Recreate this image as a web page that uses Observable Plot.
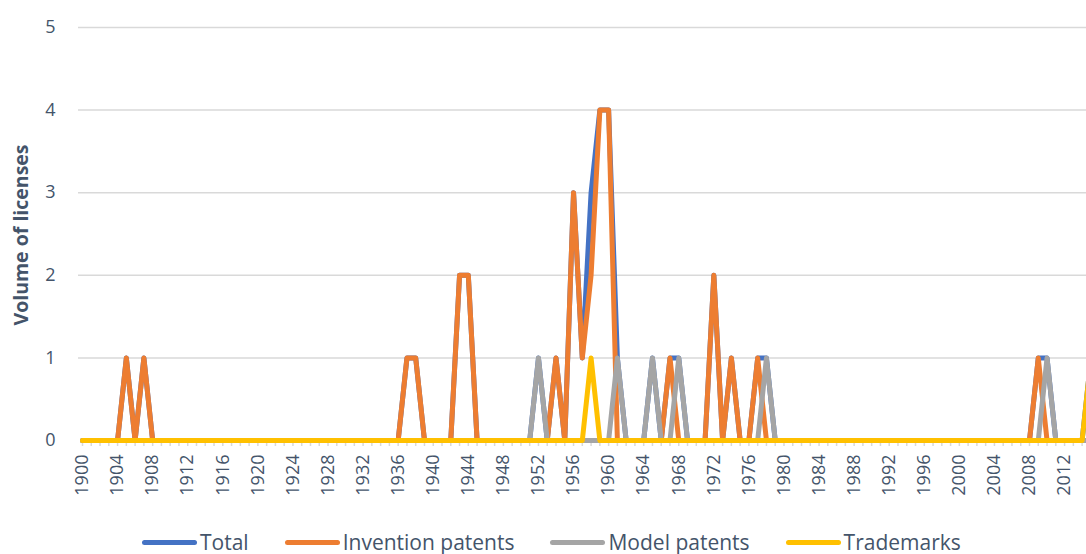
<!DOCTYPE html>
<html>
<head>
<meta charset="utf-8">
<script src="https://cdn.jsdelivr.net/npm/d3@7"></script>
<script src="https://cdn.jsdelivr.net/npm/@observablehq/plot@0.6"></script>
<style>
  html, body { margin: 0; padding: 0; background: #fff; }
  body { width: 1086px; height: 554px; overflow: hidden; font-family: "Open Sans", sans-serif; }
  #legend { display: flex; align-items: center; height: 24px; margin-left: 142px; gap: 36px; color: #44546a; font-size: 21px; white-space: nowrap; }
  #legend .item { display: flex; align-items: center; gap: 3px; }
  #legend .sw { width: 55px; height: 5px; border-radius: 3px; }
</style>
</head>
<body>
<div id="chart"></div>
<div id="legend"></div>
<script>
const years = [
  1900,1901,1902,1903,1904,1905,1906,1907,1908,1909,
  1910,1911,1912,1913,1914,1915,1916,1917,1918,1919,
  1920,1921,1922,1923,1924,1925,1926,1927,1928,1929,
  1930,1931,1932,1933,1934,1935,1936,1937,1938,1939,
  1940,1941,1942,1943,1944,1945,1946,1947,1948,1949,
  1950,1951,1952,1953,1954,1955,1956,1957,1958,1959,
  1960,1961,1962,1963,1964,1965,1966,1967,1968,1969,
  1970,1971,1972,1973,1974,1975,1976,1977,1978,1979,
  1980,1981,1982,1983,1984,1985,1986,1987,1988,1989,
  1990,1991,1992,1993,1994,1995,1996,1997,1998,1999,
  2000,2001,2002,2003,2004,2005,2006,2007,2008,2009,
  2010,2011,2012,2013,2014,2015
];
const total = [
  0,0,0,0,0,1,0,1,0,0,
  0,0,0,0,0,0,0,0,0,0,
  0,0,0,0,0,0,0,0,0,0,
  0,0,0,0,0,0,0,1,1,0,
  0,0,0,2,2,0,0,0,0,0,
  0,0,1,0,1,0,3,1,3,4,
  4,1,0,0,0,1,0,1,1,0,
  0,0,2,0,1,0,0,1,1,0,
  0,0,0,0,0,0,0,0,0,0,
  0,0,0,0,0,0,0,0,0,0,
  0,0,0,0,0,0,0,0,0,1,
  1,0,0,0,0,1
];
const invention = [
  0,0,0,0,0,1,0,1,0,0,
  0,0,0,0,0,0,0,0,0,0,
  0,0,0,0,0,0,0,0,0,0,
  0,0,0,0,0,0,0,1,1,0,
  0,0,0,2,2,0,0,0,0,0,
  0,0,0,0,1,0,3,1,2,4,
  4,0,0,0,0,0,0,1,0,0,
  0,0,2,0,1,0,0,1,0,0,
  0,0,0,0,0,0,0,0,0,0,
  0,0,0,0,0,0,0,0,0,0,
  0,0,0,0,0,0,0,0,0,1,
  0,0,0,0,0,0
];
const model = [
  0,0,0,0,0,0,0,0,0,0,
  0,0,0,0,0,0,0,0,0,0,
  0,0,0,0,0,0,0,0,0,0,
  0,0,0,0,0,0,0,0,0,0,
  0,0,0,0,0,0,0,0,0,0,
  0,0,1,0,0,0,0,0,0,0,
  0,1,0,0,0,1,0,0,1,0,
  0,0,0,0,0,0,0,0,1,0,
  0,0,0,0,0,0,0,0,0,0,
  0,0,0,0,0,0,0,0,0,0,
  0,0,0,0,0,0,0,0,0,0,
  1,0,0,0,0,0
];
const trademarks = [
  0,0,0,0,0,0,0,0,0,0,
  0,0,0,0,0,0,0,0,0,0,
  0,0,0,0,0,0,0,0,0,0,
  0,0,0,0,0,0,0,0,0,0,
  0,0,0,0,0,0,0,0,0,0,
  0,0,0,0,0,0,0,0,1,0,
  0,0,0,0,0,0,0,0,0,0,
  0,0,0,0,0,0,0,0,0,0,
  0,0,0,0,0,0,0,0,0,0,
  0,0,0,0,0,0,0,0,0,0,
  0,0,0,0,0,0,0,0,0,0,
  0,0,0,0,0,1
];
const seriesNames = ["Total", "Invention patents", "Model patents", "Trademarks"];
const seriesColors = ["#4472c4", "#ed7d31", "#a5a5a5", "#ffc000"];
const xTickLabels = [1900,1904,1908,1912,1916,1920,1924,1928,1932,1936,1940,1944,1948,1952,1956,1960,1964,1968,1972,1976,1980,1984,1988,1992,1996,2000,2004,2008,2012];
const yTicks = [0,1,2,3,4,5];
const yTitle = "Volume of licenses";

const seriesValues = [total, invention, model, trademarks];
const data = [];
seriesNames.forEach((name, si) => {
  years.forEach((yr, i) => data.push({series: name, year: yr, value: seriesValues[si][i]}));
});

const textColor = "#44546a";
const lineMarks = seriesNames.map((name, si) =>
  Plot.line(data.filter(d => d.series === name), {
    x: "year", y: "value",
    stroke: seriesColors[si], strokeWidth: 5,
    strokeLinejoin: "round", strokeLinecap: "round",
    style: "filter: drop-shadow(1px 1px 1px rgba(0,0,0,0.25))"
  })
);

const chart = Plot.plot({
  width: 1086,
  height: 530,
  marginLeft: 82,
  marginRight: 0,
  marginTop: 27,
  marginBottom: 90,
  style: {fontFamily: "Open Sans", background: "#fff", overflow: "hidden"},
  x: {domain: [1900, 2014.5], label: null},
  y: {domain: [0, 5], label: null},
  marks: [
    Plot.ruleY(yTicks.filter(d => d > 0), {stroke: "#d9d9d9", strokeWidth: 1.5, insetLeft: -4}),
    Plot.axisX({ticks: years, tickSize: 6, text: null, stroke: "#d9d9d9", strokeWidth: 1.5, label: null}),
    Plot.axisX({ticks: xTickLabels, tickSize: 0, tickRotate: -90, tickPadding: 14, tickFormat: d => String(d), fontSize: 18, fill: textColor, label: null}),
    Plot.axisY({ticks: yTicks, tickSize: 0, tickPadding: 27, tickFormat: d => String(d), fontSize: 18, fill: textColor, label: null}),
    Plot.text([yTitle], {frameAnchor: "left", textAnchor: "middle", dx: -61, dy: 1, rotate: -90, fontSize: 19.5, fontWeight: "bold", fill: textColor}),
    ...lineMarks
  ]
});
document.getElementById("chart").appendChild(chart);

const legend = document.getElementById("legend");
seriesNames.forEach((name, i) => {
  const item = document.createElement("div");
  item.className = "item";
  const sw = document.createElement("span");
  sw.className = "sw";
  sw.style.background = seriesColors[i];
  const lab = document.createElement("span");
  lab.textContent = name;
  item.appendChild(sw);
  item.appendChild(lab);
  legend.appendChild(item);
});
</script>
</body>
</html>
